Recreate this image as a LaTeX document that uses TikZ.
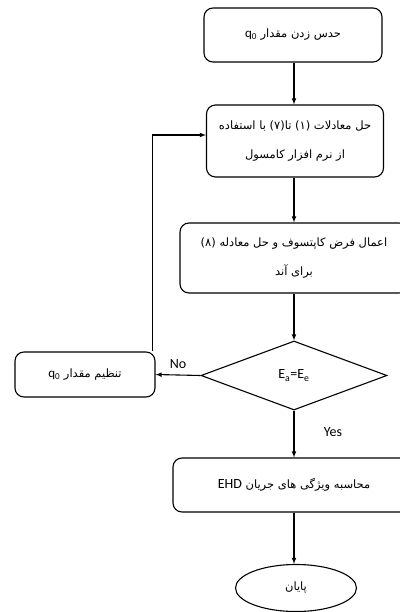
\documentclass[tikz,border=0pt]{standalone}
\usepackage{fontspec}
\setmainfont{Carlito}
\newfontfamily\arabicfont[Script=Arabic]{DejaVu Sans}
\newfontfamily\latinfont{Carlito}
\TeXXeTstate=1
\usetikzlibrary{shapes.geometric}

% persian line, right to left
\newcommand{\fatext}[1]{{\arabicfont\beginR #1\endR}}
\newcommand{\qzero}{\beginL{\latinfont\fontsize{13}{14}\selectfont q\textsubscript{0}}\endL}

\begin{document}
\begin{tikzpicture}[x=1pt,y=-1pt,line width=1.1pt,>=latex,
    box/.style={draw,rounded corners=9pt,align=center,minimum width=#1,
        font=\fontsize{11.5}{29}\selectfont},
    decision/.style={draw,diamond,minimum width=186pt,minimum height=69pt,
        inner sep=0pt,font=\fontsize{14}{16}\selectfont},
    lbl/.style={font=\fontsize{14}{16}\selectfont}]
    \useasboundingbox (0,0) rectangle (399,612);

    \node[box=178pt,minimum height=54pt] (guess) at (293,35) {\fatext{حدس زدن مقدار \qzero}};
    \node[box=177pt,minimum height=72pt] (solve) at (295,141)
        {\fatext{حل معادلات (۱) تا(۷) با استفاده}\\ \fatext{از نرم افزار کامسول}};
    \node[box=228pt,minimum height=70pt] (kaptsov) at (294,258)
        {\fatext{اعمال فرض کاپتسوف و حل معادله (۸)}\\ \fatext{برای آند}};
    \node[decision] (check) at (294,375.5) {E\textsubscript{a}=E\textsubscript{e}};
    \node[box=140pt,minimum height=45pt] (adjust) at (85,374.5) {\fatext{تنظیم مقدار \qzero}};
    \node[box=242pt,minimum height=54pt] (props) at (294,485)
        {\fatext{محاسبه ویژگی های جریان \beginL{\latinfont\fontsize{14}{16}\selectfont EHD}\endL}};
    \node[draw,ellipse,minimum width=121pt,minimum height=47pt] (finish) at (296,588)
        {\fontsize{11.5}{14}\selectfont\fatext{پایان}};

    \draw[->] (guess.south -| check) -- (solve.north -| check);
    \draw[->] (solve.south -| check) -- (kaptsov.north -| check);
    \draw[->] (kaptsov.south -| check) -- (check.north);
    \draw[->] (check.west) -- (adjust.east) node[lbl,pos=.5,above=3pt] {No};
    \draw[->] (check.south) -- (props.north -| check) node[lbl,pos=.45,right=26pt] {Yes};
    \draw[->] (props.south -| check) -- (finish.north -| check);
    % loop back to the solver
    \draw[->] ([xshift=-3pt]adjust.north east) |- ([yshift=6pt]solve.west);
\end{tikzpicture}
\end{document}
